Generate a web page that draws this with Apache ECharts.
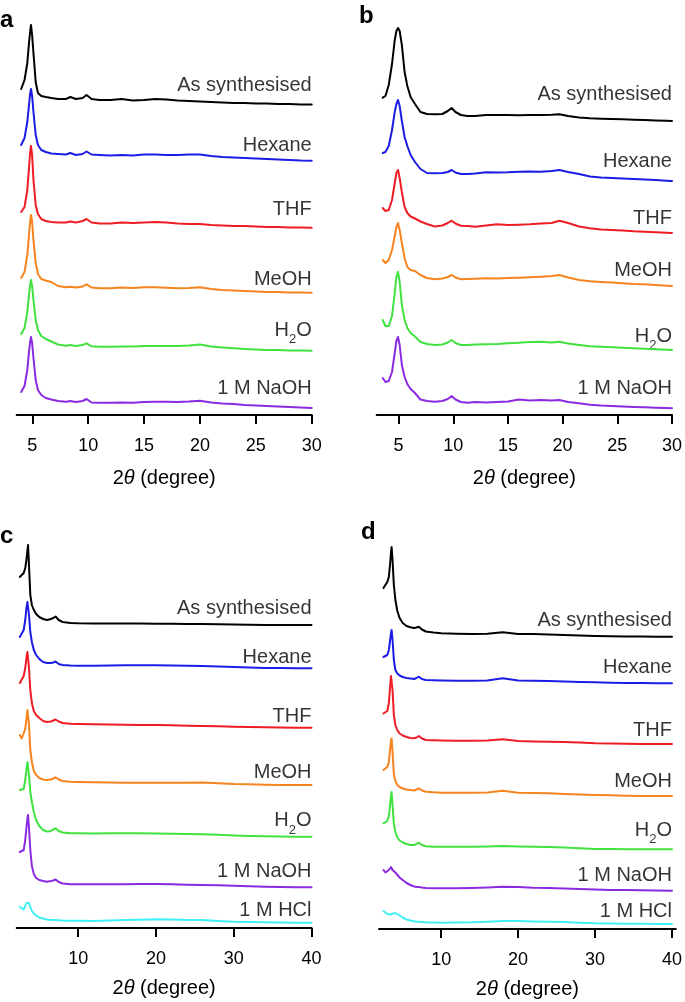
<!DOCTYPE html>
<html><head><meta charset="utf-8">
<script src="https://cdn.jsdelivr.net/npm/echarts@6/dist/echarts.min.js"></script>
<style>html,body{margin:0;padding:0;background:#fff}#chart{width:685px;height:1002px}</style>
</head><body><div id="chart"></div>
<script>
// ---------- DATA (2θ in degrees, intensity in arbitrary stacked units) ----------
const namesAB = ['As synthesised', 'Hexane', 'THF', 'MeOH', 'H2O', '1 M NaOH'];
const namesCD = ['As synthesised', 'Hexane', 'THF', 'MeOH', 'H2O', '1 M NaOH', '1 M HCl'];
const ticksAB = [5, 10, 15, 20, 25, 30];
const ticksCD = [10, 20, 30, 40];

const xA = [4.0,4.3,4.55,4.7,4.8,4.88,4.98,5.1,5.3,5.5,5.8,6.2,6.7,7.3,8.0,8.4,8.9,9.5,9.85,10.3,11,12,13,14,15,16,17,18,19,20,21,22,23,24,25,26,27,28,29,30];
const aAsSynth = [326,335,352,372,383,390,380,362,333,322,319,318,317,316,316,318,316,317,320,316,315,315,316,314.5,315,316,315.5,314.5,314,313.5,313,312.5,312,312,311.5,311.5,311,311,310.5,310.5];
const aHexane = [270,277,293,310,321,326,319,303,280,270,265,263,261.5,261,260.5,262,260,261,263.5,260.5,260,259.5,260,259.5,260.5,260.5,260,260,260.5,260.5,259,258,257.5,257,256.5,256,255.5,255,254.5,254.3];
const aTHF = [203,208,225,247,262,269,260,235,210,201,196,194,193,192.5,192.5,193.5,192.5,194,196,192.5,191.5,191.5,192.5,192,192.5,193,192.5,191.5,191,191,190,189.5,189,189,188.5,188,188,187.5,187.5,187.3];
const aMeOH = [137,143,160,180,193,200,193,175,152,141,136,134.5,133,129,127.7,128.3,127.5,128.5,130.7,127.5,126.7,126.7,127.5,127,127.7,127.7,127.2,126.7,127,127.7,126,125,124.5,124,123.5,123,123,122.5,122.5,122.3];
const aH2O = [81,87,103,120,130,135,129,115,95,85,79,76,73.5,70.5,69.3,70,69,70,71.7,68.7,68.3,68.3,68.5,68.5,69,69,69,69,69.5,70.5,68.5,67.5,66.7,66,65.5,65,65,64.5,64.5,64.3];
const aNaOH = [23,29,45,63,73,78,72,57,35,25,20,17,15.5,14,13.3,14,13,14,16,12.5,12.3,12.3,12.5,12.3,13,13.3,13.3,13,13.5,14.3,12.5,11.5,11,10,9.5,9,8.5,8,7.5,7];

const xB = [3.55,3.8,4.1,4.4,4.65,4.8,4.95,5.1,5.3,5.55,5.8,6.1,6.5,7.0,7.6,8.3,9.0,9.5,9.85,10.2,10.7,11.3,12,13,14,15,16,17,18,19,19.7,20.5,21.5,22.5,23.5,24.5,25.5,26.5,27.5,28.5,29.5,30];
const bAsSynth = [317.3,319,330,351,375,384,387,384,370,343,329,318,311,303,301,300.7,301,304,307,303,300,299,299,300,300,300,299.7,300,300,300.3,300.7,299,297.5,296.7,296.3,296,295.7,295.3,295,294.5,294.2,294];
const bHexane = [262,263,269,285,303,311,315,309,294,278,269,260,253,246,242,241.7,242,243,245,242.5,241,241,241.5,242.7,242.5,242.7,243.3,243.5,243.3,244,245,243,241,238.5,237.5,237,236.5,236,235.5,235,234.3,234];
const bTHF = [207,204,205,215,232,242,245,237,223,208,202,198.5,196.5,193.5,191,188.5,189.5,192,194.3,191.5,189.3,189,188.3,189.5,190.7,190,190.3,190.7,191.5,192,194.3,192,188.5,186.7,185.5,185,184.5,183.7,183.3,182.8,182.3,182];
const bMeOH = [155,152,155,165,179,188,192,185,172,157,148,145,144,140,137,135.7,136.5,138,140,137.5,135.7,136,136.3,136.7,136.5,137,137.3,137.7,138.3,139,140,137.5,135,133.7,133,132.5,131.7,131,130.7,130,129.3,129];
const bH2O = [95,89,89,99,122,138,143,133,110,95,87,82,78.5,73,71,70,70.5,72.5,75,72,70,70,70.5,70.7,71,71.7,72.3,73,73.2,72.5,73.3,71.5,70,68.7,68.2,67.7,67.2,66.7,66.2,65.7,65.2,65];
const bNaOH = [37,33,34,43,62,74,78,70,50,38,31,26,22,15.5,14,13.3,14,16,19,15.5,13,12.3,13,12.5,13,13.5,15.5,14.5,15,14.5,15,13,11.7,10.3,9.5,9,8.5,8,7.7,7.3,7,6.7];

const xCD = [2.5,2.75,3.0,3.2,3.35,3.48,3.56,3.68,3.85,4.05,4.3,4.6,5.0,5.5,6.0,6.5,6.8,7.1,7.5,8.0,9,10,12,14,16,18,20,22,24,26,28,30,32,34,36,38,40];
const cAsSynth = [351,352,355,360,368,378,383,363,333,323,318,314,311,309,308,309,310,311.5,308,306,305,304.7,304.5,304.5,304.5,304.5,304.3,304.3,304,304,303.7,303.5,303.3,303,303,303,303];
const cHexane = [291,293,298,308,320,326,324,313,296,286,278,273,269,266,265,265,265.5,266.5,264,263,262.5,262.3,262.3,262.5,262.7,262.7,262.7,262.5,262.3,262,261.5,261,260.5,260,260,259.7,259.7];
const cTHF = [245,247,252,260,270,276,274,260,238,225,217,213,210,207,206,206.5,207.5,208.5,206.5,205,204.3,204,203.7,203.5,203.3,203,203,202.7,202.3,202,201.7,201.3,201,200.7,200.5,200.3,200.3];
const cMeOH = [193,189.5,191,199,209,218,219,203,178,166,157,153,150,148.5,148,148.5,149.5,150.7,148.5,147,146.3,146,145.7,145.5,145.3,145.3,145.3,145.3,145.3,145.5,144.7,144,143.7,143.3,143,143,143];
const cH2O = [138,136.5,139,148,158,166,167,153,136,126,116,108,102,98,96.5,97,98.5,99.7,97,95.5,94.7,94.7,94.5,94.7,94.7,94.7,94.5,94.3,94,93.7,93.3,92.5,92,91.7,91.5,91.3,91.3];
const cNaOH = [76,76.5,78,88,100,110,113,100,78,62,54,50,48,47,46.3,47,47.5,48.5,46,44.5,43.7,43.7,43.7,43.7,43.7,44,44,43.7,43.3,43,42.7,42.3,41.7,41.3,41,40.7,40.7];
const cHCl = [21,19,18.5,22,25,27,27.3,25,21,17,14.5,12.5,10.5,9.5,8.5,8,8,8,7.7,7.5,7.3,7.3,7,7.5,8,8.3,8.7,8.5,8,8,7,6.3,6,5.7,5.5,5.3,5.3];

const dAsSynth = [341,344,347,352,364,377,382,369,344,329,318,311,306,303,301.7,301,301.5,302.3,299.5,297.5,296.5,295.7,295.3,295,295.3,296.7,295,295,294.5,294,293.5,293,292.7,292.5,292.5,292.3,292.3];
const dHexane = [272,271,274,279,288,296,299,289,269,259,255.5,253.5,252,251,250.5,250,251,252.3,250,249,248.7,248.5,248.3,248.3,248.5,250.7,248.5,248.3,248,247.5,247,246.7,246.3,246,246,245.7,245.7];
const dTHF = [215.5,216,218,226,241,253,255,239,214,204,199,195.5,193.5,192,191,190.7,191.5,193,190.5,189,188.7,188.5,188.3,188.3,188.5,189.7,188,187.5,187.3,187,186.5,185.7,185.5,185.3,185,185,185];
const dMeOH = [159,159.5,162,167,179,188,190.5,177,155,148,144,142,140.5,139.5,139,138.5,139.5,140.7,138.5,137.3,136.7,136.3,136.3,136.3,136.5,138.3,136.3,136,135.7,135,134.5,134,133.7,133.3,133,133,133];
const dH2O = [105.7,105,108,113,123,134,137,124,105,97,91.5,88.5,86.5,85,84,84,85,86.3,84,82.7,82.3,82.3,82.3,82.3,82.5,83,82.5,82.3,82,81.5,80.7,80,80,79.7,79.7,79.7,79.7];
const dNaOH = [59,56.5,57,59,61,62,62,59,57,56.5,55,51.5,49,46,44,42.5,42,42,41.5,41,40.7,40.7,40.7,41,41.5,42.3,42,41.3,41,40.5,40,39.5,39,39,38.7,38.5,38.3];
const dHCl = [18,16,15,14.7,14.5,14.7,15,15.3,15.7,16,15.7,13.5,11.5,9.5,8.5,7.7,7.3,7.2,7,6.7,6.5,6.3,6.5,6.7,7.3,8,8,7.5,7.3,7,6.3,5.7,5.5,5.3,5.2,5,5];

// ---------- STYLE / LAYOUT ----------
const FONT = "'Liberation Sans', Arial, Helvetica, sans-serif";
const TXT = '#000000';
const colors = ['#000000', '#1c1ce4', '#ee1c24', '#f7841f', '#40e23f', '#8a2be2', '#3ff0f4'];

const panels = [
  { letter: 'a', grid: {left: 16.7, top: 15, width: 295, height: 400}, min: 3.6, max: 30, nameGap: 53,
    x: xA, ys: [aAsSynth, aHexane, aTHF, aMeOH, aH2O, aNaOH], names: namesAB, ticks: ticksAB,
    lift: [12.5, 8.7, 11.7, 6.7, 13.7, 13], letterPos: [0, 8] },
  { letter: 'b', grid: {left: 376.7, top: 15, width: 295.6, height: 400}, min: 3.0, max: 30, nameGap: 53,
    x: xB, ys: [bAsSynth, bHexane, bTHF, bMeOH, bH2O, bNaOH], names: namesAB, ticks: ticksAB,
    lift: [20, 13, 8, 9, 7, 13.3], letterPos: [359, 4] },
  { letter: 'c', grid: {left: 16.7, top: 528, width: 294.8, height: 400}, min: 2.1, max: 40, nameGap: 50,
    x: xCD, ys: [cAsSynth, cHexane, cTHF, cMeOH, cH2O, cNaOH, cHCl], names: namesCD, ticks: ticksCD,
    lift: [10, 4, 4, 6, 9, 9, 5], letterPos: [0, 524] },
  { letter: 'd', grid: {left: 379, top: 529, width: 299.3, height: 400}, min: 1.92, max: 40.5, nameGap: 50,
    x: xCD, ys: [dAsSynth, dHexane, dTHF, dMeOH, dH2O, dNaOH, dHCl], names: namesCD, ticks: ticksCD,
    lift: [9, 9, 7, 8, 12, 8, 6], letterPos: [361, 520] }
];

const grids = [], xAxes = [], yAxes = [], series = [], graphics = [];
panels.forEach((p, pi) => {
  grids.push(Object.assign({containLabel: false}, p.grid));
  xAxes.push({
    type: 'value', gridIndex: pi, min: p.min, max: p.max,
    axisLine: {show: true, onZero: false, lineStyle: {color: '#000', width: 2}},
    axisTick: {show: true, inside: false, length: 9, lineStyle: {color: '#000', width: 2}, customValues: p.ticks},
    axisLabel: {show: true, margin: 22, color: TXT, fontSize: 18, fontFamily: FONT, customValues: p.ticks, showMinLabel: true, showMaxLabel: true},
    splitLine: {show: false},
    name: '{n|2}{i|θ}{n| (degree)}', nameLocation: 'middle', nameGap: p.nameGap,
    nameTextStyle: {color: TXT, fontSize: 20, fontFamily: FONT,
      rich: {n: {fontSize: 20, fontFamily: FONT, color: TXT}, i: {fontSize: 20, fontFamily: FONT, fontStyle: 'italic', color: TXT}}}
  });
  yAxes.push({type: 'value', gridIndex: pi, min: 0, max: 400, show: false});
  p.ys.forEach((ys, si) => {
    series.push({
      type: 'line', xAxisIndex: pi, yAxisIndex: pi, showSymbol: false, symbol: 'none',
      silent: true, animation: false,
      lineStyle: {color: colors[si], width: 2, join: 'round', cap: 'round'},
      data: p.x.map((xv, k) => [xv, ys[k]])
    });
    const name = p.names[si];
    series.push({
      type: 'scatter', xAxisIndex: pi, yAxisIndex: pi, symbolSize: 0, silent: true, animation: false,
      data: [[p.x[p.x.length - 1], ys[ys.length - 1]]],
      label: {
        show: true, position: 'left', distance: 0, offset: [0, -(p.lift[si] + 7)],
        color: TXT, fontSize: 20, fontFamily: FONT, align: 'right', verticalAlign: 'middle',
        formatter: () => name === 'H2O' ? '{n|H}{s|2}{n|O}' : name,
        rich: {
          n: {fontSize: 20, fontFamily: FONT, color: TXT, lineHeight: 32, verticalAlign: 'middle'},
          s: {fontSize: 13, fontFamily: FONT, color: TXT, lineHeight: 13, verticalAlign: 'bottom'}
        }
      }
    });
  });
  graphics.push({type: 'text', left: p.letterPos[0], top: p.letterPos[1],
    style: {text: p.letter, fontSize: 24, fontWeight: 'bold', fontFamily: FONT, fill: '#000'}});
});

const chart = echarts.init(document.getElementById('chart'), null, {renderer: 'canvas'});
chart.setOption({
  animation: false, backgroundColor: '#ffffff',
  grid: grids, xAxis: xAxes, yAxis: yAxes, series: series, graphic: graphics
});
</script>
</body></html>
